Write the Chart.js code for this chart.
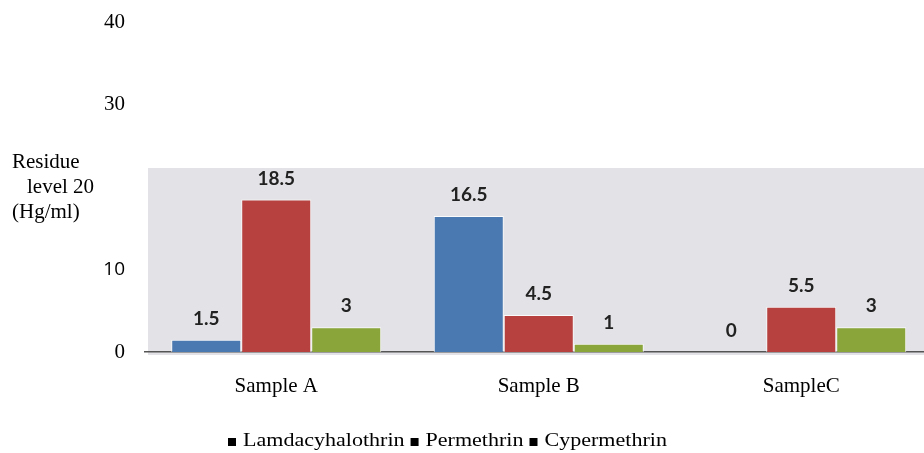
<!DOCTYPE html>
<html>
<head>
<meta charset="utf-8">
<script src="https://cdn.jsdelivr.net/npm/chart.js@4.4.1/dist/chart.umd.min.js"></script>
<style>
  html, body { margin: 0; padding: 0; background: #ffffff; overflow: hidden; }
  canvas { display: block; }
</style>
</head>
<body>
<canvas id="chart" width="924" height="453"></canvas>
<script>
// Pesticide residue per sample (Hg/ml)
const categories = ['Sample A', 'Sample B', 'SampleC'];
const seriesNames = ['Lamdacyhalothrin', 'Permethrin', 'Cypermethrin'];
const lamdacyhalothrin = [1.5, 16.5, 0];
const permethrin = [18.5, 4.5, 5.5];
const cypermethrin = [3, 1, 3];
const yTickValues = [0, 10, 20, 30, 40];

const seriesColors = ['#4a79b1', '#b7413e', '#8aa63a'];
const SERIF = '"Liberation Serif", "Times New Roman", serif';
const SANS = '"Open Sans", "Liberation Sans", sans-serif';
const LABEL_FONT = 'bold 19px Lato, "Open Sans", sans-serif';
const PANEL_TOP = 22.3;   // the shaded panel stops a little above the 20 line

const seriesValues = [lamdacyhalothrin, permethrin, cypermethrin];
const datasets = seriesNames.map((name, s) => ({
  label: name,
  data: categories.map((c, i) => ({ x: i, y: seriesValues[s][i] })),
  backgroundColor: seriesColors[s],
  borderColor: 'rgba(255,255,255,0.85)',
  borderWidth: ctx => (ctx.raw && ctx.raw.y === 0 ? 0 : 1),
  borderSkipped: 'bottom',
  categoryPercentage: 0.8,
  barPercentage: 1.0
}));

// Light grey panel behind the bars
const panelPlugin = {
  id: 'panel',
  beforeDraw(chart) {
    const { ctx, chartArea, scales } = chart;
    const top = scales.y.getPixelForValue(PANEL_TOP);
    const bottom = scales.y.getPixelForValue(0) + 3;
    ctx.save();
    ctx.fillStyle = '#e3e3e7';
    ctx.fillRect(chartArea.left + 3, top, chart.width - chartArea.left - 3, bottom - top);
    ctx.restore();
  }
};

// Value printed above every bar
const valueLabelPlugin = {
  id: 'valueLabels',
  afterDatasetsDraw(chart) {
    const ctx = chart.ctx;
    ctx.save();
    ctx.font = LABEL_FONT;
    ctx.fillStyle = '#222222';
    ctx.textAlign = 'center';
    ctx.textBaseline = 'middle';
    chart.data.datasets.forEach((ds, di) => {
      chart.getDatasetMeta(di).data.forEach((bar, i) => {
        ctx.fillText(String(ds.data[i].y), bar.x, bar.y - 21);
      });
    });
    ctx.restore();
  }
};

// Axis caption wrapped around the "20" tick
const axisCaptionPlugin = {
  id: 'axisCaption',
  afterDraw(chart) {
    const ctx = chart.ctx;
    const y20 = chart.scales.y.getPixelForValue(20);
    ctx.save();
    ctx.font = '21px ' + SERIF;
    ctx.fillStyle = '#000';
    ctx.textAlign = 'left';
    ctx.textBaseline = 'middle';
    ctx.fillText('Residue', 12, y20 - 25);
    ctx.fillText('level 20', 27, y20);
    ctx.fillText('(Hg/ml)', 12, y20 + 25);
    ctx.restore();
  }
};

// Legend line: small black squares followed by the series names (wide-set type)
const legendLinePlugin = {
  id: 'legendLine',
  afterDraw(chart) {
    const ctx = chart.ctx;
    const stretch = 1.16;
    ctx.save();
    ctx.font = '19px ' + SERIF;
    ctx.fillStyle = '#000';
    ctx.textAlign = 'left';
    ctx.textBaseline = 'alphabetic';
    const baseline = 446;
    let x = 228;
    seriesNames.forEach(name => {
      ctx.fillRect(x, baseline - 8, 8, 8);
      x += 15;
      ctx.save();
      ctx.translate(x, baseline);
      ctx.scale(stretch, 1);
      ctx.fillText(name, 0, 0);
      ctx.restore();
      x += ctx.measureText(name).width * stretch + 6;
    });
    ctx.restore();
  }
};

new Chart(document.getElementById('chart'), {
  type: 'bar',
  data: { datasets },
  plugins: [panelPlugin, valueLabelPlugin, axisCaptionPlugin, legendLinePlugin],
  options: {
    responsive: false,
    animation: false,
    devicePixelRatio: 1,
    layout: { padding: { top: 22, right: 0, bottom: 41, left: 0 } },
    plugins: {
      legend: { display: false },
      tooltip: { enabled: false },
      title: { display: false }
    },
    scales: {
      x: {
        type: 'linear',
        min: -0.5,
        max: 2.4676,
        offset: false,
        grid: { display: false, drawTicks: false },
        border: { display: true, color: '#555555', width: 1.5 },
        afterBuildTicks: scale => { scale.ticks = categories.map((c, i) => ({ value: i })); },
        afterFit: scale => { scale.height = 60; },
        ticks: {
          autoSkip: false,
          maxRotation: 0,
          padding: 22,
          color: '#000',
          font: { family: SERIF, size: 21 },
          callback: v => categories[v] ?? ''
        }
      },
      y: {
        min: 0,
        max: 40,
        grid: { display: false, drawTicks: false },
        border: { display: false },
        afterBuildTicks: scale => { scale.ticks = yTickValues.map(v => ({ value: v })); },
        afterFit: scale => {
          scale.width = 145;
          scale.paddingTop = 0;
          scale.paddingBottom = 0;
        },
        ticks: {
          padding: 20,
          color: '#000',
          font: ctx => (ctx.tick && ctx.tick.value === 10
            ? { family: SANS, size: 19 }
            : { family: SERIF, size: 21 }),
          callback: v => (v === 20 ? '' : String(v))
        }
      }
    }
  }
});
</script>
</body>
</html>
